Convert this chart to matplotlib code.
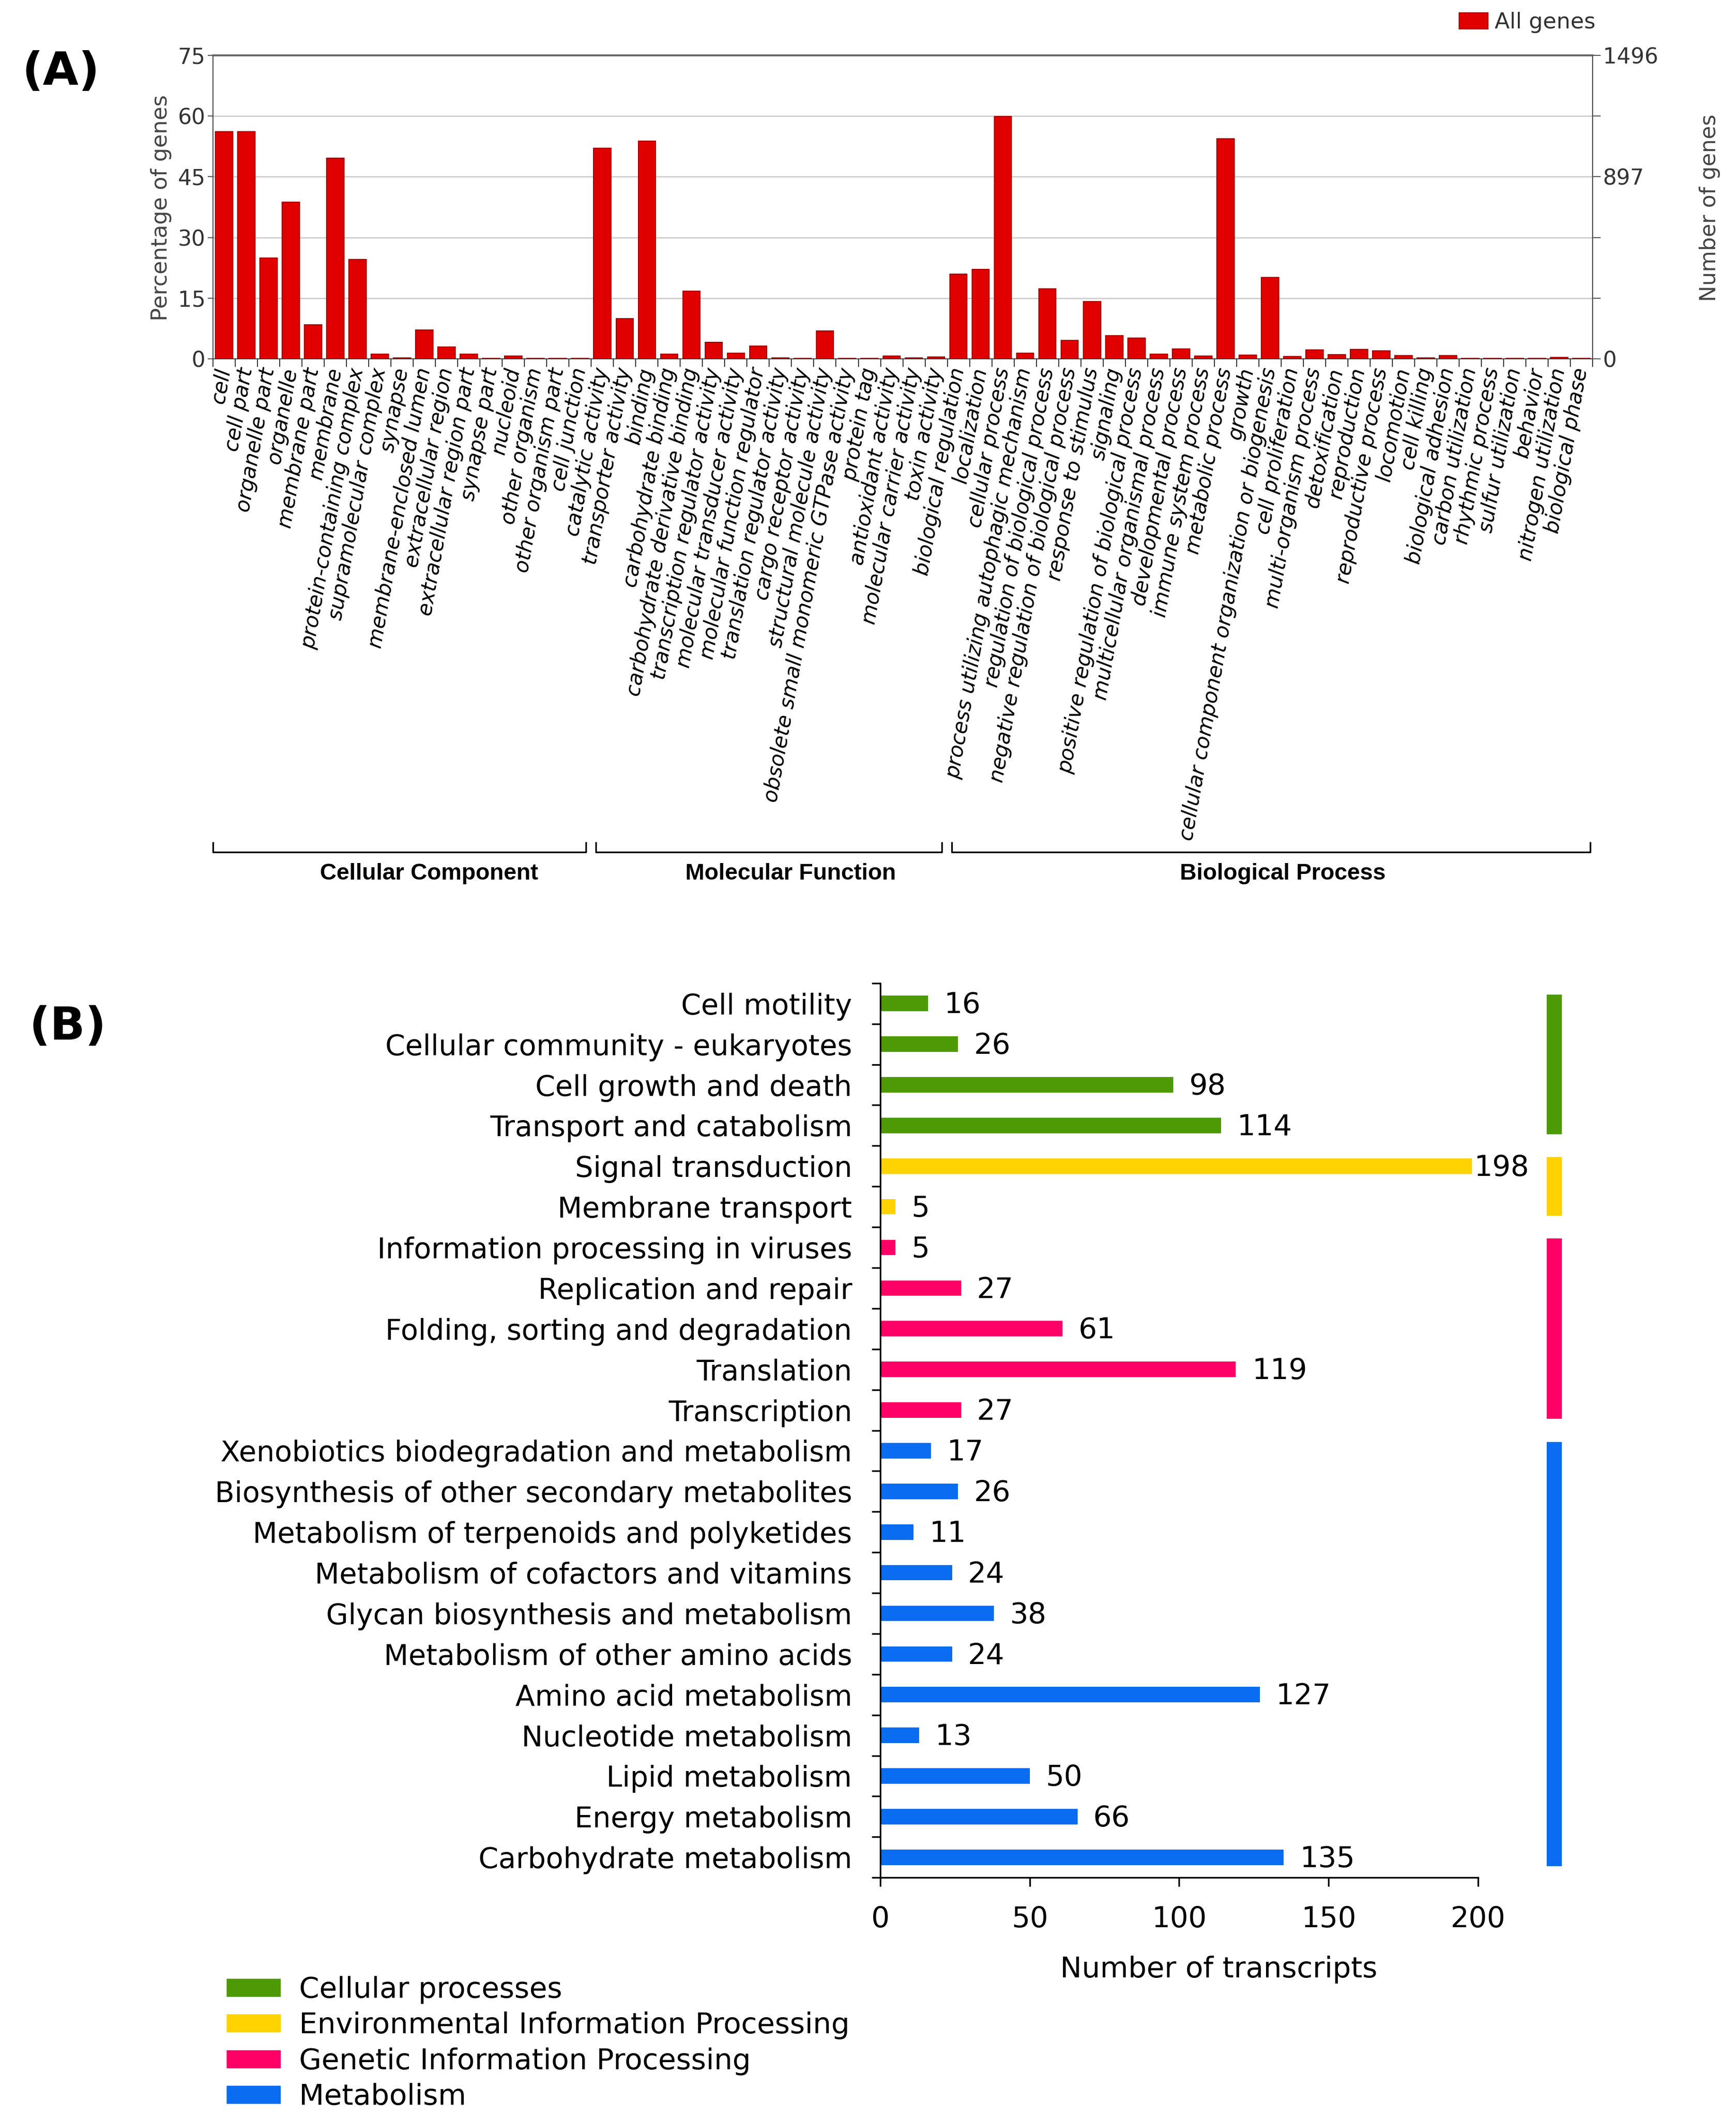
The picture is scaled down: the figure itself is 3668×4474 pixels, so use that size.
import matplotlib
matplotlib.use("Agg")
import matplotlib.pyplot as plt
import matplotlib.transforms as mtransforms
from matplotlib.patches import Patch
import numpy as np

plt.rcParams['font.family'] = ['DejaVu Sans']

# ---------------- data: (A) GO classification ----------------
cc_terms = ["cell", "cell part", "organelle part", "organelle", "membrane part", "membrane",
            "protein-containing complex", "supramolecular complex", "synapse",
            "membrane-enclosed lumen", "extracellular region", "extracellular region part",
            "synapse part", "nucleoid", "other organism", "other organism part", "cell junction"]
cc_pct = [56.2, 56.2, 24.9, 38.7, 8.4, 49.6, 24.6, 1.2, 0.2, 7.1, 2.9, 1.2, 0.1, 0.7, 0.1, 0.1, 0.1]

mf_terms = ["catalytic activity", "transporter activity", "binding", "carbohydrate binding",
            "carbohydrate derivative binding", "transcription regulator activity",
            "molecular transducer activity", "molecular function regulator",
            "translation regulator activity", "cargo receptor activity",
            "structural molecule activity", "obsolete small monomeric GTPase activity",
            "protein tag", "antioxidant activity", "molecular carrier activity", "toxin activity"]
mf_pct = [52.1, 9.9, 53.8, 1.1, 16.7, 4.1, 1.4, 3.1, 0.2, 0.1, 6.9, 0.1, 0.1, 0.7, 0.2, 0.5]

bp_terms = ["biological regulation", "localization", "cellular process",
            "process utilizing autophagic mechanism", "regulation of biological process",
            "negative regulation of biological process", "response to stimulus", "signaling",
            "positive regulation of biological process", "multicellular organismal process",
            "developmental process", "immune system process", "metabolic process", "growth",
            "cellular component organization or biogenesis", "cell proliferation",
            "multi-organism process", "detoxification", "reproduction", "reproductive process",
            "locomotion", "cell killing", "biological adhesion", "carbon utilization",
            "rhythmic process", "sulfur utilization", "behavior", "nitrogen utilization",
            "biological phase"]
bp_pct = [20.9, 22.1, 59.9, 1.4, 17.3, 4.5, 14.2, 5.7, 5.1, 1.2, 2.5, 0.7, 54.4, 0.9, 20.1,
          0.6, 2.2, 1.0, 2.3, 2.0, 0.8, 0.2, 0.8, 0.1, 0.15, 0.1, 0.1, 0.35, 0.1]

go_groups = ["Cellular Component", "Molecular Function", "Biological Process"]
pct_ticks = [0, 15, 30, 45, 60, 75]
gene_tick_labels = ["0", "", "", "897", "", "1496"]

# ---------------- data: (B) KEGG classification ----------------
kegg_terms = ["Cell motility", "Cellular community - eukaryotes", "Cell growth and death",
              "Transport and catabolism", "Signal transduction", "Membrane transport",
              "Information processing in viruses", "Replication and repair",
              "Folding, sorting and degradation", "Translation", "Transcription",
              "Xenobiotics biodegradation and metabolism",
              "Biosynthesis of other secondary metabolites",
              "Metabolism of terpenoids and polyketides", "Metabolism of cofactors and vitamins",
              "Glycan biosynthesis and metabolism", "Metabolism of other amino acids",
              "Amino acid metabolism", "Nucleotide metabolism", "Lipid metabolism",
              "Energy metabolism", "Carbohydrate metabolism"]
kegg_counts = [16, 26, 98, 114, 198, 5, 5, 27, 61, 119, 27, 17, 26, 11, 24, 38, 24, 127, 13,
               50, 66, 135]
kegg_classes = ["Cellular processes", "Environmental Information Processing",
                "Genetic Information Processing", "Metabolism"]
kegg_class_sizes = [4, 2, 5, 11]
class_colors = ["#4e9a06", "#ffd200", "#ff0066", "#0a6cf0"]

# ---------------- figure ----------------
fig = plt.figure(figsize=(36.68, 44.74), dpi=100)

# ===== panel A =====
terms = cc_terms + mf_terms + bp_terms
pct = cc_pct + mf_pct + bp_pct
n = len(terms)
xpos = np.arange(n) + 0.5

axA = fig.add_axes([0.1227, 0.8306, 0.7947, 0.1432])
axA.bar(xpos, pct, width=0.78, color="#e00000", edgecolor="#a00000", linewidth=1.5,
        zorder=3, label="All genes")
axA.set_xlim(0, n)
axA.set_ylim(0, 75)
axA.set_yticks(pct_ticks)
axA.yaxis.grid(True, color="#cccccc", linewidth=2, zorder=0)
axA.set_xticks(xpos)
axA.set_xticklabels(terms, rotation=80, ha="right", va="center", rotation_mode="anchor",
                    fontstyle="italic", fontsize=31.5)
axA.set_xticks(np.arange(n + 1), minor=True)
axA.tick_params(axis="x", which="major", length=0, pad=14)
axA.tick_params(axis="x", which="minor", length=12, width=1.5, color="#333333")
axA.tick_params(axis="y", labelsize=33, labelcolor="#333333", length=8, width=1.5,
                color="#555555")
for s in ["left", "right", "bottom"]:
    axA.spines[s].set_color("#444444")
    axA.spines[s].set_linewidth(1.5)
axA.spines["top"].set_color("#666666")
axA.spines["top"].set_linewidth(3)

axR = axA.twinx()
axR.set_ylim(0, 75)
axR.set_yticks(pct_ticks)
axR.set_yticklabels(gene_tick_labels)
axR.tick_params(axis="y", labelsize=33, labelcolor="#333333", length=12, width=1.5,
                color="#555555")
for s in axR.spines.values():
    s.set_visible(False)

fig.text(0.0927, 0.9019, "Percentage of genes", rotation=90, ha="center", va="center",
         fontsize=33.5, color="#444444")
fig.text(0.985, 0.9019, "Number of genes", rotation=90, ha="center", va="center",
         fontsize=33, color="#444444")
axA.legend(loc="center right", bbox_to_anchor=(0.919, 0.9893), bbox_transform=fig.transFigure,
           frameon=False, fontsize=33.5, handlelength=1.3, handleheight=0.75, handletextpad=0.3,
           borderpad=0, borderaxespad=0, labelcolor="#333333")

# group brackets
trans = mtransforms.blended_transform_factory(axA.transData, fig.transFigure)
sizes = [len(cc_terms), len(mf_terms), len(bp_terms)]
starts = np.cumsum([0] + sizes[:-1])
label_x = [9.7, 25.97, 48.07]
yb, yt = 1 - 1800 / 4474, 1 - 1780 / 4474
for i, g in enumerate(go_groups):
    x0 = starts[i] + (0.0 if i == 0 else 0.2)
    x1 = starts[i] + sizes[i] - (0.25 if i < 2 else 0.1)
    axA.plot([x0, x0, x1, x1], [yt, yb, yb, yt], transform=trans, color="black", lw=2.5,
             clip_on=False)
    axA.text(label_x[i], 1 - 1845 / 4474, g, transform=trans, ha="center", va="center",
             fontsize=35, fontweight="bold", family="Liberation Sans")

fig.text(0.0352, 0.966, "(A)", fontsize=70, fontweight="bold", ha="center", va="center")

# ===== panel B =====
row_colors = []
for c, k in zip(class_colors, kegg_class_sizes):
    row_colors += [c] * k
ypos = np.arange(len(kegg_terms))

axB = fig.add_axes([0.5071, 0.1135, 0.3443, 0.4223])
axB.barh(ypos, kegg_counts, height=0.38, color=row_colors)
axB.set_ylim(len(kegg_terms) - 0.5, -0.5)
axB.set_xlim(0, 200)
axB.set_yticks(ypos)
axB.set_yticklabels(kegg_terms, fontsize=43.5)
axB.set_yticks(np.arange(len(kegg_terms) + 1) - 0.5, minor=True)
axB.tick_params(axis="y", which="major", length=0, pad=43)
axB.tick_params(axis="y", which="minor", length=13, width=2.5)
axB.set_xticks([0, 50, 100, 150, 200])
axB.tick_params(axis="x", labelsize=44, length=14, width=2.5, pad=28)
axB.spines["top"].set_visible(False)
axB.spines["right"].set_visible(False)
axB.spines["left"].set_linewidth(2.5)
axB.spines["bottom"].set_linewidth(2.5)

for yy, v in zip(ypos, kegg_counts):
    off = 3 if v > 190 else 24
    axB.annotate(str(v), (v, yy), xytext=(off, -3), textcoords="offset points",
                 ha="left", va="center", fontsize=44)

# class bars on the right
first = 0
for c, k in zip(class_colors, kegg_class_sizes):
    top = first - 0.22
    bot = first + k - 1 + 0.22
    axB.barh((top + bot) / 2, 5, left=223, height=bot - top, color=c, clip_on=False)
    first += k

fig.text(0.702, 1 - 4160 / 4474, "Number of transcripts", ha="center", va="center",
         fontsize=44)
fig.text(0.039, 0.515, "(B)", fontsize=70, fontweight="bold", ha="center", va="center")

handles = [Patch(color=c) for c in class_colors]
fig.legend(handles, kegg_classes, loc="center left", bbox_to_anchor=(0.1306, 0.0352),
           frameon=False, fontsize=44, handlelength=1.85, handleheight=0.55,
           handletextpad=0.66, labelspacing=0.27, borderpad=0, borderaxespad=0)

fig.savefig("out.png", dpi=100)
